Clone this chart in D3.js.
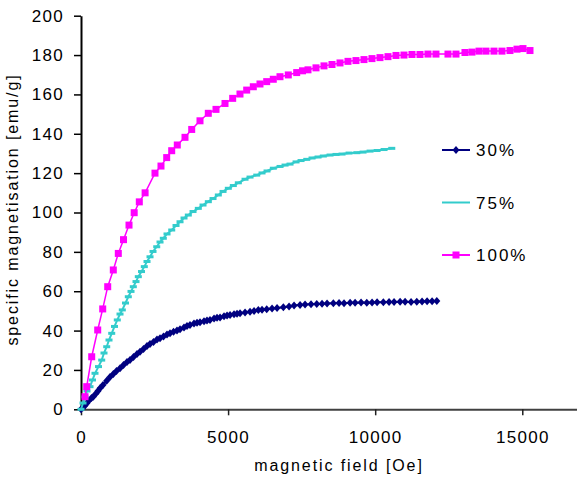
<!DOCTYPE html>
<html>
<head>
<meta charset="utf-8">
<script src="https://cdn.jsdelivr.net/npm/d3@7"></script>
<style>
  body { margin: 0; background: #fff; }
  svg { display: block; font-family: "Liberation Sans", Arial, sans-serif; }
</style>
</head>
<body>
<svg id="chart" width="577" height="483"></svg>
<script>
// values
const xTicks = [0, 5000, 10000, 15000];
const yTicks = [0, 20, 40, 60, 80, 100, 120, 140, 160, 180, 200];
const seriesNames = ['30%', '75%', '100%'];

const field30 = [0,68,136,204,272,357,418,510,578,646,748,874,986,1098,1207,1326,1445,1564,1666,1785,1904,2006,2125,2244,2346,2465,2584,2686,2805,2924,3026,3145,3264,3366,3502,3604,3706,3842,3944,4046,4182,4284,4386,4522,4624,4726,4862,4964,5066,5202,5304,5406,5576,5746,5882,6028,6154,6314,6494,6664,6878,7072,7242,7446,7616,7820,8014,8194,8364,8578,8772,8942,9146,9316,9520,9714,9894,10064,10278,10472,10642,10846,11016,11220,11414,11594,11764,11934,12094];
const mag30 = [0,0.9,1.9,3.2,4.5,5.7,6.4,8,9.3,10.7,12.3,14.5,16.4,17.9,19.5,20.8,22.5,24,25.1,26.6,28.1,29.3,30.6,32.2,33.2,34.2,35.5,36.1,37,38,38.6,39.4,40.1,40.7,41.6,42.3,42.8,43.6,44,44.2,44.7,45.1,45.4,46.1,46.5,46.7,47.3,47.7,47.9,48.3,48.6,48.8,49.2,49.6,49.9,50.5,50.6,50.8,51.2,51.5,51.8,52.2,52.7,53,53.3,53.4,53.5,53.6,53.8,53.9,54,53.9,54.2,54.1,54.3,54.2,54.3,54.4,54.4,54.5,54.5,54.7,54.7,54.5,54.7,54.8,54.9,54.9,55];

const field75 = [0,68,136,204,306,391,476,595,704,782,874,952,1044,1139,1234,1326,1404,1513,1608,1700,1778,1870,1948,2057,2152,2244,2346,2448,2574,2686,2798,2924,3084,3230,3366,3502,3648,3808,3988,4148,4328,4488,4668,4828,5008,5178,5348,5576,5746,5974,6154,6324,6538,6766,6936,7106,7310,7480,7674,7854,8058,8238,8466,8670,8874,9112,9374,9588,9826,10064,10302,10564];
const mag75 = [0,3.2,6.3,9.3,11.5,14.9,18.3,21.7,25,28.6,31.8,35.2,38.6,42.1,45.4,48.4,50.5,54,57.2,59.9,62.3,64.9,67.4,70,72.5,75.1,77.5,80.2,82.6,85,86.9,89.1,91.1,93.4,95.3,97.2,98.7,100.5,102.1,103.8,105.5,107.1,108.9,110.7,112.3,113.7,115.1,116.9,118,119,120.1,121.1,122.5,123.4,124.1,124.6,125.7,126.4,127,127.7,128.2,128.7,129.2,129.5,129.7,130.2,130.4,130.7,131.2,131.5,132,132.6];

const field100 = [136,194,364,568,738,908,1098,1268,1445,1632,1808,1982,2179,2515,2719,2913,3083,3273,3535,3763,4045,4327,4589,4895,5156,5404,5632,5857,6084,6312,6536,6764,7046,7332,7530,7716,7988,8260,8532,8804,9075,9347,9619,9891,10163,10435,10707,10979,11251,11523,11794,12066,12474,12746,13052,13290,13528,13766,14038,14310,14582,14820,15024,15262];
const mag100 = [6.4,11.5,26.7,40.3,51,62.3,70.8,79.2,86.2,93.6,99.9,105.4,110,120,123.6,127.9,131.4,134.3,138.2,142.2,146.6,150.4,152.4,155.4,158,160.2,162.2,163.9,165.3,166.5,167.7,169,169.9,171.1,172,172.5,173.5,174.5,175.2,176,176.8,177.2,177.7,178.2,178.7,179.2,179.8,180,180.3,180.3,180.5,180.5,180.5,180.5,181.3,181.5,182,182,182,182,182.3,183,183.3,182.3];

const svg = d3.select('#chart');

const x = d3.scaleLinear().domain([0, 16860]).range([81, 577]);
const y = d3.scaleLinear().domain([0, 200]).range([409.3, 15.7]);

const series = [
  { name: seriesNames[0], color: '#000080', marker: 'diamond', width: 2, pts: d3.zip(field30, mag30) },
  { name: seriesNames[1], color: '#33CCCC', marker: 'dash', width: 2, pts: d3.zip(field75, mag75) },
  { name: seriesNames[2], color: '#FF00FF', marker: 'square', width: 1.5, pts: d3.zip(field100, mag100) }
];

function drawMarker(sel, kind, color) {
  if (kind === 'diamond') {
    sel.append('path').attr('d', 'M0,-4L3.5,0L0,4L-3.5,0Z').style('fill', color);
  } else if (kind === 'square') {
    sel.append('rect').attr('x', -3.5).attr('y', -3.5).attr('width', 7).attr('height', 7).style('fill', color);
  } else {
    sel.append('rect').attr('x', -3.5).attr('y', -1.5).attr('width', 7).attr('height', 3).style('fill', color);
  }
}

// axes
const xAxis = svg.append('g')
  .attr('transform', 'translate(0,409.3)')
  .call(d3.axisBottom(x).tickValues(xTicks).tickSize(6).tickSizeOuter(0).tickPadding(16).tickFormat(d3.format('d')));
xAxis.select('.domain').style('stroke', '#404040').style('stroke-width', 2);
xAxis.selectAll('.tick line').style('stroke', '#202020').style('stroke-width', 1.5);

const yAxis = svg.append('g')
  .attr('transform', 'translate(81,0)')
  .call(d3.axisLeft(y).tickValues(yTicks).tickSize(7).tickSizeOuter(0).tickPadding(10));
yAxis.select('.domain').style('stroke', '#000').style('stroke-width', 2);
yAxis.selectAll('.tick line').style('stroke', '#000').style('stroke-width', 1.5);

svg.selectAll('.tick text')
  .style('font-size', '17px')
  .style('letter-spacing', '1.3px')
  .style('fill', '#000')
  .style('font-family', '"Liberation Sans", Arial, sans-serif');

// series
const line = d3.line().x(d => x(d[0])).y(d => y(d[1]));

series.forEach(s => {
  const g = svg.append('g');
  g.append('path')
    .datum(s.pts)
    .attr('d', line)
    .style('fill', 'none')
    .style('stroke', s.color)
    .style('stroke-width', s.width);
  g.selectAll('.m')
    .data(s.pts)
    .enter()
    .append('g')
    .attr('transform', d => `translate(${x(d[0])},${y(d[1])})`)
    .each(function() { drawMarker(d3.select(this), s.marker, s.color); });
});

// legend
const legend = svg.selectAll('.legend')
  .data(series)
  .enter()
  .append('g')
  .attr('transform', (d, i) => `translate(442,${150 + i * 52.5})`);

legend.append('line')
  .attr('x1', 0).attr('x2', 28)
  .style('stroke', d => d.color)
  .style('stroke-width', 2);

legend.append('g')
  .attr('transform', 'translate(14,0)')
  .each(function(d) { if (d.marker !== 'dash') drawMarker(d3.select(this), d.marker, d.color); });

legend.append('text')
  .attr('x', 34)
  .attr('dy', '0.36em')
  .style('font-size', '17px')
  .style('letter-spacing', '2px')
  .text(d => d.name);

// axis titles
svg.append('text')
  .attr('x', 339)
  .attr('y', 471)
  .attr('text-anchor', 'middle')
  .style('font-size', '16px')
  .style('letter-spacing', '1.9px')
  .text('magnetic field [Oe]');

svg.append('text')
  .attr('transform', 'translate(18,209.5) rotate(-90)')
  .attr('text-anchor', 'middle')
  .style('font-size', '16px')
  .style('letter-spacing', '1.9px')
  .text('specific magnetisation [emu/g]');
</script>
</body>
</html>
